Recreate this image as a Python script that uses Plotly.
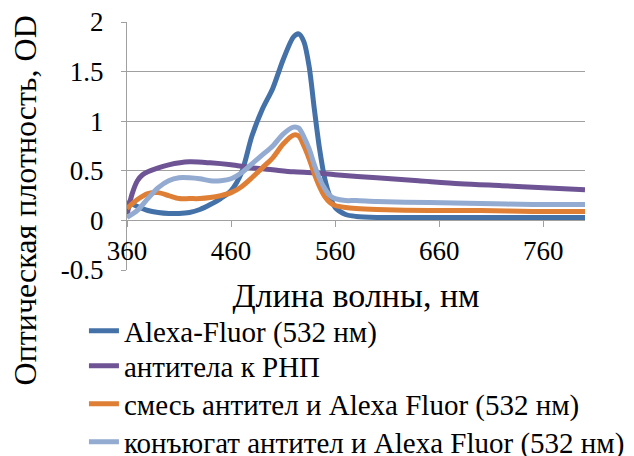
import plotly.graph_objects as go

# Wavelengths (nm) and optical density values
wl_alexa = [360, 370, 380, 390, 400, 410, 420, 430, 440, 450, 460, 470, 480, 490, 500,
            510, 520, 525, 530, 535, 540, 545, 550, 555, 560, 570, 580, 600, 650, 700, 750, 800]
od_alexa = [0.19, 0.14, 0.10, 0.08, 0.07, 0.07, 0.08, 0.11, 0.16, 0.22, 0.30, 0.48, 0.85, 1.12, 1.33,
            1.62, 1.85, 1.88, 1.80, 1.55, 1.12, 0.72, 0.42, 0.24, 0.13, 0.06, 0.04, 0.03, 0.03, 0.03, 0.03, 0.03]

wl_ab = [360, 365, 370, 375, 380, 390, 400, 420, 440, 460, 480, 500, 520, 540, 560,
         600, 640, 680, 720, 760, 800]
od_ab = [0.06, 0.27, 0.40, 0.46, 0.49, 0.53, 0.56, 0.59, 0.58, 0.56, 0.53, 0.51, 0.49, 0.48, 0.46,
         0.43, 0.40, 0.37, 0.35, 0.33, 0.31]

wl_mix = [360, 370, 380, 390, 400, 410, 420, 430, 440, 450, 460, 470, 480, 490, 500,
          510, 520, 525, 530, 535, 540, 545, 550, 555, 560, 570, 580, 600, 650, 700, 750, 800]
od_mix = [0.12, 0.21, 0.27, 0.28, 0.25, 0.22, 0.22, 0.22, 0.23, 0.25, 0.28, 0.34, 0.43, 0.53, 0.63,
          0.77, 0.86, 0.85, 0.75, 0.62, 0.47, 0.34, 0.24, 0.18, 0.15, 0.13, 0.12, 0.11, 0.10, 0.10, 0.09, 0.09]

wl_conj = [360, 370, 380, 390, 400, 410, 420, 430, 440, 450, 460, 470, 480, 490, 500,
           510, 520, 525, 530, 535, 540, 545, 550, 555, 560, 570, 580, 600, 650, 700, 750, 800]
od_conj = [0.03, 0.10, 0.22, 0.33, 0.40, 0.43, 0.43, 0.42, 0.40, 0.40, 0.42, 0.48, 0.57, 0.66, 0.75,
           0.87, 0.94, 0.93, 0.84, 0.72, 0.56, 0.42, 0.32, 0.25, 0.22, 0.20, 0.20, 0.19, 0.18, 0.17, 0.16, 0.16]

names = ["Alexa-Fluor (532 нм)", "антитела к РНП",
         "смесь антител и Alexa Fluor (532 нм)", "конъюгат антител и Alexa Fluor (532 нм)"]
colors = ["#4472A8", "#6E5494", "#DE7F35", "#93AAD1"]

x_ticks = [360, 460, 560, 660, 760]
y_ticks = [-0.5, 0, 0.5, 1, 1.5, 2]
y_ticklabels = ["-0.5", "0", "0.5", "1", "1.5", "2"]

FONT = "Liberation Serif"
LEG_FONT = 29
legend_ids = ["legend", "legend2", "legend3", "legend4"]
legend_y = [-0.246, -0.387, -0.540, -0.693]   # one legend row per series (paper fraction)

fig = go.Figure()
series = [(wl_alexa, od_alexa), (wl_ab, od_ab), (wl_mix, od_mix), (wl_conj, od_conj)]
for (xs, ys), nm, c, lid in zip(series, names, colors, legend_ids):
    fig.add_trace(go.Scatter(x=xs, y=ys, mode="lines", name=nm, legend=lid,
                             line=dict(color=c, width=5, shape="spline", smoothing=0.8)))

legend_layout = {}
for lid, ly in zip(legend_ids, legend_y):
    legend_layout[lid] = dict(x=-0.094, y=ly, xanchor="left", yanchor="middle",
                              font=dict(family=FONT, size=LEG_FONT, color="black"),
                              itemwidth=30, bgcolor="rgba(0,0,0,0)")

# The page body adds an 8px offset; margins compensate so the plot lands where the reference has it.
fig.update_layout(
    width=680, height=500,
    margin=dict(l=119, r=103, t=14, b=238),
    paper_bgcolor="white", plot_bgcolor="white",
    font=dict(family=FONT, size=27, color="black"),
    showlegend=True,
    xaxis=dict(range=[360, 800], tickvals=x_ticks, ticktext=[str(v) for v in x_ticks],
               anchor="free", position=0.2, showgrid=False, zeroline=False,
               showline=True, linecolor="#A0A0A0", linewidth=1,
               ticks="outside", ticklen=6, tickcolor="#A0A0A0",
               ticklabelstandoff=0, automargin=False, ticklabeloverflow="allow",
               tickfont=dict(family=FONT, size=27),
               title=dict(text="Длина волны, нм", font=dict(family=FONT, size=34), standoff=18)),
    yaxis=dict(range=[-0.5, 2], tickvals=y_ticks, ticktext=y_ticklabels,
               showgrid=True, gridcolor="#A0A0A0", gridwidth=1, zeroline=False,
               showline=True, linecolor="#A0A0A0", linewidth=1,
               ticks="outside", ticklen=5, tickcolor="#A0A0A0",
               ticklabelstandoff=12, automargin=False, ticklabeloverflow="allow",
               tickfont=dict(family=FONT, size=27)),
    annotations=[dict(text="Оптическая плотность, OD", textangle=-90,
                      xref="paper", yref="paper", x=-0.222, y=0.282,
                      xanchor="center", yanchor="middle", showarrow=False,
                      font=dict(family=FONT, size=32))],
    **legend_layout,
)

fig.write_html("out.html")
